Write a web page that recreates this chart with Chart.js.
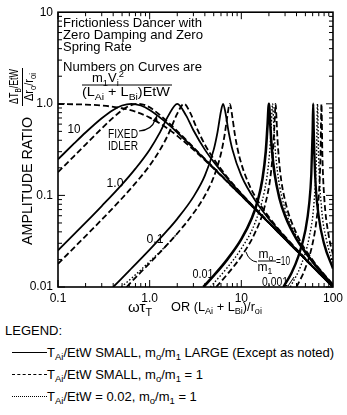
<!DOCTYPE html>
<html>
<head>
<meta charset="utf-8">
<script src="https://cdn.jsdelivr.net/npm/chart.js@4.4.1/dist/chart.umd.min.js"></script>
<style>
  body { margin: 0; background: #fff; font-family: "Liberation Sans", Arial, sans-serif; color: #000; }
  #wrap { position: absolute; left: 0; top: 0; width: 347px; height: 320px; }
  #legend { position: absolute; left: 0; top: 320px; width: 347px; height: 95px; font-size: 13px; }
  #legend div { position: absolute; white-space: nowrap; line-height: 15px; }
  #legend sub { font-size: 9.5px; vertical-align: -3px; line-height: 0; }
  .smp { position: absolute; left: 12px; width: 35px; height: 0; border-top: 1.8px solid #000; }
</style>
</head>
<body>
<div id="wrap"><canvas id="ampChart"></canvas></div>
<div id="legend">
  <div style="left:5px;top:3px">LEGEND:</div>
  <span class="smp" style="top:32px"></span>
  <div style="left:47px;top:25px">T<sub>Ai</sub>/EtW SMALL, m<sub>o</sub>/m<sub>1</sub> LARGE (Except as noted)</div>
  <span class="smp" style="top:54px;border-top-style:dashed"></span>
  <div style="left:47px;top:47px">T<sub>Ai</sub>/EtW SMALL, m<sub>o</sub>/m<sub>1</sub> = 1</div>
  <span class="smp" style="top:76px;border-top-style:dotted"></span>
  <div style="left:47px;top:69px">T<sub>Ai</sub>/EtW = 0.02, m<sub>o</sub>/m<sub>1</sub> = 1</div>
</div>
<script>
const FONT = '"Liberation Sans", Arial, sans-serif';

// axis ticks
const xTicks = [0.1, 1, 10, 100];
const xTickLabels = ['0.1', '1.0', '10', '100'];
const yTicks = [0.01, 0.1, 1, 10];
const yTickLabels = ['0.01', '0.1', '1.0', '10'];

// fixed idler (dashed)
const idlerX = [0.1, 0.2, 0.3, 0.5, 0.7, 1, 1.5, 2, 3, 5, 7, 10, 20, 30, 50, 70, 100];
const idlerY = [0.995, 0.981, 0.958, 0.894, 0.819, 0.707, 0.555, 0.447, 0.316, 0.196, 0.141, 0.0995, 0.05, 0.0333, 0.02, 0.0143, 0.01];

// curve "10"
const s10X = [0.1, 0.15, 0.2, 0.3, 0.4, 0.5, 0.632, 0.8, 1, 1.5, 2, 3, 5, 10, 20, 50, 100];
const s10Y = [0.248, 0.369, 0.486, 0.695, 0.857, 0.958, 1, 0.958, 0.857, 0.630, 0.486, 0.329, 0.199, 0.0999, 0.05, 0.02, 0.01];
const d10X = [0.1, 0.15, 0.2, 0.3, 0.4, 0.5, 0.6, 0.748, 0.9, 1, 1.5, 2, 3, 5, 10, 20, 50, 100];
const d10Y = [0.179, 0.269, 0.359, 0.538, 0.707, 0.850, 0.949, 1, 0.963, 0.915, 0.664, 0.503, 0.335, 0.200, 0.0999, 0.05, 0.02, 0.01];

// curve "1.0"
const s1X = [0.1, 0.2, 0.3, 0.5, 0.7, 1, 1.3, 1.6, 2, 2.5, 3, 4, 5, 7, 10, 20, 50, 100];
const s1Y = [0.0251, 0.0504, 0.0765, 0.132, 0.196, 0.316, 0.490, 0.743, 1, 0.743, 0.514, 0.316, 0.232, 0.154, 0.104, 0.0505, 0.02, 0.01];
const d1X = [0.1, 0.2, 0.3, 0.5, 0.7, 1, 1.3, 1.6, 2, 2.37, 2.8, 3.2, 4, 5, 7, 10, 20, 50, 100];
const d1Y = [0.0179, 0.036, 0.0544, 0.0931, 0.136, 0.212, 0.316, 0.466, 0.781, 1, 0.781, 0.568, 0.359, 0.250, 0.159, 0.105, 0.0507, 0.02, 0.01];

// curve "0.1"
const s01X = [0.4, 0.6, 1, 1.5, 2, 3, 4, 5, 5.5, 6, 6.32, 6.7, 7.2, 8, 10, 15, 20, 30, 50, 100];
const s01Y = [0.01, 0.0151, 0.0256, 0.0397, 0.0555, 0.0964, 0.164, 0.316, 0.491, 0.832, 1, 0.808, 0.520, 0.316, 0.164, 0.0808, 0.0555, 0.0349, 0.0203, 0.01];
const d01X = [0.56, 0.8, 1, 1.5, 2, 3, 4, 5, 6, 6.6, 7, 7.48, 8, 8.5, 9.5, 12, 15, 20, 30, 50, 100];
const d01Y = [0.01, 0.0145, 0.0182, 0.0279, 0.0384, 0.0637, 0.0995, 0.159, 0.287, 0.469, 0.707, 1, 0.707, 0.463, 0.267, 0.135, 0.0884, 0.058, 0.0355, 0.0205, 0.01];
const p01X = [0.49, 0.7, 1, 1.5, 2];
const p01Y = [0.01, 0.0136, 0.019, 0.028, 0.0384];

// curve "0.01"
const s001X = [3.85, 5, 7, 10, 13, 15, 17, 18.5, 19.3, 20, 20.7, 21.5, 23, 26, 30, 40, 60, 100];
const s001Y = [0.01, 0.0133, 0.0199, 0.0333, 0.0562, 0.0854, 0.151, 0.305, 0.573, 1, 0.587, 0.326, 0.176, 0.0937, 0.0599, 0.0333, 0.0188, 0.0104];
const p001X = [4.59, 7, 10, 14, 18, 19.5, 20.5, 21.2, 21.9, 22.6, 23.3, 25, 30, 40, 60, 100];
const p001Y = [0.01, 0.0162, 0.0263, 0.0492, 0.115, 0.192, 0.325, 0.570, 1, 0.592, 0.347, 0.170, 0.0712, 0.0357, 0.0192, 0.0105];
const d001X = [5.32, 7, 10, 14, 18, 21, 22.5, 23.1, 23.66, 24.2, 24.8, 26.5, 30, 40, 60, 100];
const d001Y = [0.01, 0.0137, 0.0217, 0.0384, 0.0761, 0.174, 0.386, 0.659, 1, 0.686, 0.411, 0.183, 0.0879, 0.0384, 0.0197, 0.0106];

// curve "0.001"
const s0001X = [28.7, 35, 42, 50, 55, 58, 60, 60.83, 61.7, 64, 70, 80, 100];
const s0001Y = [0.01, 0.014, 0.0217, 0.0416, 0.0812, 0.170, 0.514, 1, 0.5, 0.159, 0.0582, 0.0296, 0.0159];
const p0001X = [34.3, 45, 55, 62, 66, 67.8, 69.6, 75, 85, 100];
const p0001Y = [0.01, 0.0175, 0.0349, 0.0818, 0.261, 1, 0.274, 0.073, 0.0324, 0.0185];
const d0001X = [40, 50, 60, 66, 70, 73, 74.83, 76.7, 80, 90, 100];
const d0001Y = [0.01, 0.0161, 0.03, 0.053, 0.0995, 0.26, 1, 0.262, 0.0995, 0.036, 0.0227];

const SOLID = [], DASH = [6, 3], DOT = [1.5, 2];

function curve(xs, ys, dash, width) {
  return {
    data: xs.map((v, i) => ({ x: v, y: ys[i] })),
    showLine: true,
    pointRadius: 0,
    borderColor: '#000',
    borderWidth: width || 1.8,
    borderDash: dash,
    cubicInterpolationMode: 'monotone',
    fill: false
  };
}

// text with _{sub} and ^{sup}
function parts(str) {
  const out = [];
  const re = /([_^])\{([^}]*)\}/g;
  let last = 0, m;
  while ((m = re.exec(str))) {
    if (m.index > last) out.push({ t: str.slice(last, m.index), k: 0 });
    out.push({ t: m[2], k: m[1] === '_' ? 1 : 2 });
    last = re.lastIndex;
  }
  if (last < str.length) out.push({ t: str.slice(last), k: 0 });
  return out;
}

function rich(ctx, str, x, y, size, align, width) {
  const ps = parts(str);
  const fontFor = k => (k ? size * 0.72 : size) + 'px ' + FONT;
  let w = 0;
  ps.forEach(p => { ctx.font = fontFor(p.k); p.w = ctx.measureText(p.t).width; w += p.w; });
  const k = width ? width / w : 1;
  const W = w * k;
  const x0 = align === 'center' ? x - W / 2 : align === 'right' ? x - W : x;
  ctx.save();
  ctx.translate(x0, y);
  ctx.scale(k, 1);
  ctx.textAlign = 'left';
  ctx.textBaseline = 'alphabetic';
  let cx = 0;
  ps.forEach(p => {
    ctx.font = fontFor(p.k);
    const dy = p.k === 1 ? size * 0.28 : p.k === 2 ? -size * 0.4 : 0;
    ctx.fillText(p.t, cx, dy);
    cx += p.w;
  });
  ctx.restore();
}

function seg(ctx, x1, y1, x2, y2) {
  ctx.beginPath(); ctx.moveTo(x1, y1); ctx.lineTo(x2, y2); ctx.stroke();
}

const decor = {
  id: 'decor',
  afterDraw(chart) {
    const { ctx, chartArea: a, scales: { x, y } } = chart;
    ctx.save();
    ctx.strokeStyle = '#000';
    ctx.fillStyle = '#000';

    // frame
    ctx.lineWidth = 1.6;
    ctx.strokeRect(a.left, a.top, a.right - a.left, a.bottom - a.top);

    // inward tick marks on all four sides
    ctx.lineWidth = 1;
    for (let e = -1; e <= 1; e++) {
      for (let m = 1; m <= 9; m++) {
        const px = x.getPixelForValue(m * Math.pow(10, e));
        const len = m === 1 ? 7 : 4;
        seg(ctx, px, a.bottom, px, a.bottom - len);
        seg(ctx, px, a.top, px, a.top + len);
      }
    }
    for (let e = -2; e <= 0; e++) {
      for (let m = 1; m <= 9; m++) {
        const py = y.getPixelForValue(m * Math.pow(10, e));
        const len = m === 1 ? 7 : 4;
        seg(ctx, a.left, py, a.left + len, py);
        seg(ctx, a.right, py, a.right - len, py);
      }
    }

    // y axis title
    ctx.save();
    ctx.translate(32, 245);
    ctx.rotate(-Math.PI / 2);
    rich(ctx, 'AMPLITUDE RATIO', 0, 0, 14, 'left', 128);
    ctx.restore();
    ctx.save();
    ctx.translate(18, 104);
    ctx.rotate(-Math.PI / 2);
    rich(ctx, 'ΔT_{B}/EtW', 0, 0, 12, 'left', 35);
    ctx.restore();
    ctx.lineWidth = 1;
    seg(ctx, 22.5, 68, 22.5, 106);
    ctx.save();
    ctx.translate(33, 101);
    ctx.rotate(-Math.PI / 2);
    rich(ctx, 'Δr_{o}/r_{oi}', 0, 0, 12, 'left', 28);
    ctx.restore();

    // x axis title
    rich(ctx, 'ωτ_{T}', 128, 312, 15, 'left');
    rich(ctx, 'OR (L_{Ai} + L_{Bi})/r_{oi}', 171, 311, 12, 'left', 91);

    // note block
    rich(ctx, 'Frictionless Dancer with', 63, 27, 13, 'left', 139);
    rich(ctx, 'Zero Damping and Zero', 63, 39, 13, 'left', 140);
    rich(ctx, 'Spring Rate', 63, 51, 13, 'left');
    rich(ctx, 'Numbers on Curves are', 63, 71, 13, 'left', 139);
    rich(ctx, 'm_{1}V_{i}^{2}', 108, 82, 13, 'center');
    seg(ctx, 82, 85, 172, 85);
    rich(ctx, '(L_{Ai} + L_{Bi})EtW', 82, 96, 13, 'left', 88);

    // curve labels
    rich(ctx, '10', 74, 133, 13, 'center', 13);
    rich(ctx, 'FIXED', 108, 137.5, 13, 'left', 30);
    rich(ctx, 'IDLER', 108, 149.5, 13, 'left', 30);
    ctx.lineWidth = 1.2;
    ctx.beginPath();
    ctx.moveTo(139, 131);
    ctx.quadraticCurveTo(152, 130, 155, 120);
    ctx.stroke();
    ctx.beginPath();
    ctx.moveTo(157, 115);
    ctx.lineTo(152.5, 121);
    ctx.lineTo(157.5, 122);
    ctx.closePath();
    ctx.fill();

    rich(ctx, '1.0', 115, 186.5, 13, 'center', 17);
    rich(ctx, '0.1', 155, 242.5, 13, 'center', 17);
    rich(ctx, '0.01', 203, 277.5, 13, 'center', 21);
    rich(ctx, '0.001', 275, 286, 13, 'center', 26);
    ctx.lineWidth = 1;
    seg(ctx, 288, 286, 294, 277);

    rich(ctx, 'm_{o}', 266, 258, 12, 'center');
    seg(ctx, 258, 261, 276, 261);
    rich(ctx, 'm_{1}', 265, 271, 12, 'center');
    rich(ctx, '=10', 276, 265, 12, 'left', 14);
    ctx.beginPath();
    ctx.moveTo(257, 262);
    ctx.quadraticCurveTo(249, 261, 246, 252);
    ctx.stroke();

    ctx.restore();
  }
};

const ctx = document.getElementById('ampChart').getContext('2d');
const ampChart = new Chart(ctx, {
  type: 'scatter',
  data: {
    datasets: [
      curve(idlerX, idlerY, DASH),
      curve(s10X, s10Y, SOLID),
      curve(d10X, d10Y, DASH),
      curve(s1X, s1Y, SOLID),
      curve(d1X, d1Y, DASH),
      curve(s01X, s01Y, SOLID),
      curve(d01X, d01Y, DASH),
      curve(p01X, p01Y, DOT, 1.4),
      curve(s001X, s001Y, SOLID, 2.6),
      curve(p001X, p001Y, DOT, 1.4),
      curve(d001X, d001Y, DASH),
      curve(s0001X, s0001Y, SOLID, 2.4),
      curve(p0001X, p0001Y, DOT, 1.4),
      curve(d0001X, d0001Y, DASH)
    ]
  },
  options: {
    responsive: true,
    maintainAspectRatio: false,
    animation: false,
    devicePixelRatio: 1,
    layout: { padding: { top: 11, right: 10, bottom: 0, left: 0 } },
    plugins: { legend: { display: false }, tooltip: { enabled: false } },
    scales: {
      x: {
        type: 'logarithmic',
        min: 0.1,
        max: 100,
        grid: { display: false, drawTicks: false },
        border: { display: false },
        afterBuildTicks: s => { s.ticks = xTicks.map(v => ({ value: v })); },
        afterFit: s => { s.height = 33; },
        ticks: {
          color: '#000',
          font: { size: 12, family: FONT },
          padding: 4,
          maxRotation: 0,
          autoSkip: false,
          callback: (v, i) => xTickLabels[i]
        }
      },
      y: {
        type: 'logarithmic',
        min: 0.01,
        max: 10,
        grid: { display: false, drawTicks: false },
        border: { display: false },
        afterBuildTicks: s => { s.ticks = yTicks.map(v => ({ value: v })); },
        afterFit: s => { s.width = 58; },
        ticks: {
          color: '#000',
          font: { size: 12, family: FONT },
          padding: 5,
          autoSkip: false,
          callback: (v, i) => yTickLabels[i]
        }
      }
    }
  },
  plugins: [decor]
});
</script>
</body>
</html>
